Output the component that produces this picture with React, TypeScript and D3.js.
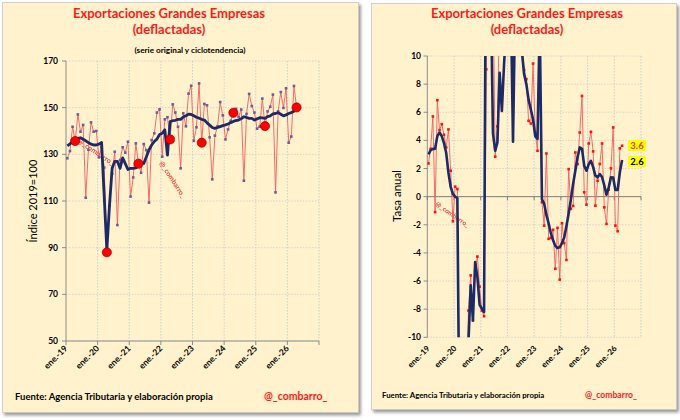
import React from 'react';
import * as d3 from 'd3';

const yearLabels = ['ene.-19', 'ene.-20', 'ene.-21', 'ene.-22', 'ene.-23', 'ene.-24', 'ene.-25', 'ene.-26'];

// Monthly index, Jan-2019 .. Apr-2026 (serie original)
const exportIndex = [
  128.3, 131.4, 141.8, 135.7, 147.1, 139.7, 142.6, 111.4, 132.0, 143.7, 139.7, 140.0,
  128.7, 133.0, 124.3, 88.0, 108.0, 121.6, 131.1, 99.7, 127.6, 133.0, 130.7, 135.4,
  111.9, 120.1, 134.7, 126.0, 122.1, 134.4, 131.8, 109.3, 136.1, 139.0, 147.9, 149.3,
  129.0, 145.0, 145.9, 136.4, 151.4, 147.9, 141.8, 124.0, 147.6, 142.0, 156.0, 159.4,
  135.8, 141.6, 160.4, 135.0, 151.6, 151.0, 137.3, 119.3, 138.0, 142.0, 152.4, 146.7,
  136.4, 140.7, 144.4, 147.8, 149.5, 146.0, 149.2, 118.7, 147.3, 155.9, 150.7, 147.9,
  141.0, 141.9, 153.9, 142.1, 148.4, 150.4, 155.6, 113.7, 148.4, 156.7, 149.9, 158.3,
  135.0, 137.6, 159.3, 150.1,
];

// Ciclotendencia
const trendIndex = [
  133.6, 134.5, 135.4, 136.2, 136.8, 137.1, 136.5, 135.8, 135.0, 134.4, 134.0, 134.0,
  134.4, 135.1, 112.0, 89.0, 108.0, 124.0, 127.0, 127.0, 124.0, 128.5, 126.0, 123.5,
  124.0, 124.0, 124.2, 125.0, 126.0, 126.1, 129.0, 131.9, 134.0, 135.5, 136.5, 138.5,
  139.0, 140.5, 129.7, 144.0, 144.4, 144.6, 145.0, 145.0, 146.0, 146.5, 147.2, 147.1,
  146.5, 145.9, 145.5, 145.0, 144.7, 143.5, 142.5, 141.5, 141.1, 141.5, 141.9, 142.3,
  142.6, 143.0, 143.6, 144.1, 144.5, 144.7, 145.3, 146.1, 145.8, 145.4, 145.4, 144.7,
  145.2, 145.7, 145.6, 145.4, 146.2, 146.5, 147.3, 147.5, 147.9, 147.2, 146.5, 146.9,
  147.5, 147.9, 148.5, 150.1,
];

// Tasa anual, serie original
const rateOriginal = [
  2.36, 3.4, 5.7, -1.1, 6.86, 4.73, 5.15, 4.4, 3.5, 4.78, 1.84, -1.75,
  0.71, 0.54, -15, -35, -25, -14, -8.1, -5.6, -8.8, -5.3, -4.26, -6.4,
  -8.1, -8.5, 9.05, 45, 20, 15, 2.84, 5.0, 14, 18, 20, 17,
  15, 16, 14, 13, 14, 12, 11, 9.0, 8.35, 5.39, 5.2, 9.46,
  4.56, 3.26, 10.5, -0.4, -2.06, 3.07, -3.0, -2.93, -2.36, -5.13, -2.22, -5.9,
  -1.89, -3.3, -4.5, 1.96, -0.87, -0.66, 3.14, 2.32, 4.56, 7.16, 0.31, -0.57,
  3.78, 4.61, 3.22, -0.64, 1.13, 2.32, 3.78, -0.76, -1.94, 0.5, 2.01, 4.92,
  -2.06, -2.46, 3.43, 3.62,
];

// Tasa anual, ciclotendencia
const rateTrend = [
  3.0, 3.3, 3.4, 3.4, 4.3, 4.56, 4.3, 3.8, 3.1, 1.7, 0.7, 0.2,
  0.0, -0.1, -18, -40, -28, -14, -10.3, -6.3, -8.8, -4.65, -5.7, -7.7,
  -7.97, -8.2, 25, 40, 15, 4.5, 3.26, 3.85, 8.8, 6.1, 9.5, 12,
  13, 14, 3.9, 14, 13, 12, 10.3, 8.7, 8.0, 6.9, 6.2, 5.5,
  4.3, 4.1, 12.5, -0.2, -0.5, -1.3, -1.9, -2.6, -3.1, -3.5, -3.65, -3.6,
  -3.3, -2.9, -2.1, -1.2, -0.2, 0.9, 1.84, 2.8, 3.5, 3.4, 2.2, 1.84,
  2.3, 2.55, 2.1, 1.5, 1.37, 1.6, 1.4, 0.8, 0.14, 0.66, 1.37, 1.35,
  0.47, 0.47, 1.73, 2.6,
];

// Same month (abril) each year, highlighted
const highlightMonths = [3, 15, 27, 39, 51, 63, 75, 87];

const leftYTicks = [50, 70, 90, 110, 130, 150, 170];
const rightYTicks = [-10, -8, -6, -4, -2, 0, 2, 4, 6, 8, 10];

const FONT = 'Lato, "Open Sans", "DejaVu Sans", sans-serif';
const CREAM = '#FFF2CC';
const NAVY = '#1C2A66';

export default function App() {
  const yearStarts = yearLabels.map((_, i) => i * 12);

  // Left chart scales
  const xL = d3.scaleLinear().domain([0, 96]).range([66, 319]);
  const yL = d3.scaleLinear().domain([50, 170]).range([341, 61]);
  const lineL = d3.line<number>().x((_, i) => xL(i + 0.5)).y((d) => yL(d));

  // Right chart scales
  const xR = d3.scaleLinear().domain([0, 96]).range([427.3, 641]);
  const yR = d3.scaleLinear().domain([-10, 10]).range([337.3, 56]);
  const lineR = d3.line<number>().x((_, i) => xR(i + 0.5)).y((d) => yR(d));

  const lastI = rateOriginal.length - 1;

  return (
    <div style={{ position: 'absolute', left: 0, top: 0 }}>
      <svg width={680} height={420} style={{ display: 'block', fontFamily: FONT }}>
        <defs>
          <filter id="sh" x="-5%" y="-5%" width="110%" height="110%">
            <feDropShadow dx="2" dy="2.5" stdDeviation="1.5" floodColor="#7f7f7f" floodOpacity="0.8" />
          </filter>
          <clipPath id="clipR">
            <rect x={427.3} y={56} width={641 - 427.3} height={337.3 - 56} />
          </clipPath>
          <clipPath id="clipL">
            <rect x={66} y={61} width={319 - 66} height={341 - 61} />
          </clipPath>
        </defs>
        <rect x={0} y={0} width={680} height={420} fill="#ffffff" />

        {/* ================= LEFT PANEL ================= */}
        <rect x={2.5} y={2.5} width={356} height={410} fill={CREAM} stroke="#c8c8c8" strokeWidth={0.8} filter="url(#sh)" />
        <text x={169} y={18} textAnchor="middle" fill="#FF1A1A" fontWeight={700} fontSize={13}>Exportaciones Grandes Empresas</text>
        <text x={169} y={34} textAnchor="middle" fill="#FF1A1A" fontWeight={700} fontSize={13}>(deflactadas)</text>
        <text x={190} y={53} textAnchor="middle" fill="#000" fontWeight={700} fontSize={8.2}>(serie original y ciclotendencia)</text>

        {/* gridlines */}
        {leftYTicks.map((t) => (
          <line key={'lg' + t} x1={66} x2={319} y1={yL(t)} y2={yL(t)} stroke="#c9c9c9" strokeWidth={0.7} strokeDasharray="1.5,1.5" />
        ))}
        {yearStarts.slice(1).concat([96]).map((m) => (
          <line key={'lv' + m} x1={xL(m)} x2={xL(m)} y1={61} y2={341} stroke="#b4c2d8" strokeWidth={0.7} strokeDasharray="1.5,1.5" />
        ))}
        {/* axes */}
        <line x1={66} x2={66} y1={61} y2={341} stroke="#8c8c8c" strokeWidth={1} />
        <line x1={66} x2={319} y1={341} y2={341} stroke="#8c8c8c" strokeWidth={1} />
        {leftYTicks.map((t) => (
          <g key={'ly' + t}>
            <line x1={62} x2={66} y1={yL(t)} y2={yL(t)} stroke="#8c8c8c" strokeWidth={1} />
            <text x={58} y={yL(t) + 3} textAnchor="end" fontSize={8.5} fontWeight={700} fill="#000">{t}</text>
          </g>
        ))}
        {yearStarts.concat([96]).map((m) => (
          <line key={'lt' + m} x1={xL(m)} x2={xL(m)} y1={341} y2={345} stroke="#8c8c8c" strokeWidth={1} />
        ))}
        {yearLabels.map((lab, i) => (
          <text key={'lx' + lab} transform={`translate(${xL(yearStarts[i]) + 2},${349}) rotate(-45)`} textAnchor="end" fontSize={8.5} fontWeight={700} fill="#000">{lab}</text>
        ))}
        <text transform={`translate(37,201) rotate(-90)`} textAnchor="middle" fontSize={11} fill="#000">Índice 2019=100</text>

        {/* watermarks */}
        <text transform="translate(77,142) rotate(34)" fontSize={7} fill="#E03030" fontWeight={700} opacity={0.85}>@_combarro_</text>
        <text transform="translate(159,163) rotate(57)" fontSize={7} fill="#E03030" fontWeight={700} opacity={0.85}>@_combarro_</text>

        <g clipPath="url(#clipL)">
          <path d={lineL(exportIndex) || ''} fill="none" stroke="#F25C5C" strokeWidth={0.9} />
          {exportIndex.map((v, i) => (
            <rect key={'lm' + i} x={xL(i + 0.5) - 1.3} y={yL(v) - 1.3} width={2.6} height={2.6} fill="#6E5C96" />
          ))}
          <path d={lineL(trendIndex) || ''} fill="none" stroke={NAVY} strokeWidth={2.8} strokeLinejoin="round" />
          {highlightMonths.map((m) => (
            <circle key={'hc' + m} cx={xL(m + 0.5)} cy={yL(exportIndex[m])} r={4.6} fill="#FF0000" stroke="#7a0000" strokeWidth={0.6} />
          ))}
        </g>

        <text x={15} y={400} fontSize={9.5} fontWeight={700} fill="#000">Fuente: Agencia Tributaria  y elaboración propia</text>
        <text x={264} y={400} fontSize={10.5} fontWeight={700} fill="#FF1A1A">@_combarro_</text>

        {/* ================= RIGHT PANEL ================= */}
        <rect x={371.5} y={3.5} width={305} height={406} fill={CREAM} stroke="#c8c8c8" strokeWidth={0.8} filter="url(#sh)" />
        <text x={527} y={18} textAnchor="middle" fill="#FF1A1A" fontWeight={700} fontSize={13}>Exportaciones Grandes Empresas</text>
        <text x={527} y={34} textAnchor="middle" fill="#FF1A1A" fontWeight={700} fontSize={13}>(deflactadas)</text>

        {rightYTicks.map((t) => (
          <line key={'rg' + t} x1={427.3} x2={641} y1={yR(t)} y2={yR(t)} stroke="#c9c9c9" strokeWidth={0.7} strokeDasharray="1.5,1.5" />
        ))}
        {yearStarts.slice(1).concat([96]).map((m) => (
          <line key={'rv' + m} x1={xR(m)} x2={xR(m)} y1={56} y2={337.3} stroke="#b4c2d8" strokeWidth={0.7} strokeDasharray="1.5,1.5" />
        ))}
        <line x1={427.3} x2={427.3} y1={56} y2={337.3} stroke="#8c8c8c" strokeWidth={1} />
        {rightYTicks.map((t) => (
          <g key={'ry' + t}>
            <line x1={423.5} x2={427.3} y1={yR(t)} y2={yR(t)} stroke="#8c8c8c" strokeWidth={1} />
            <text x={421} y={yR(t) + 3} textAnchor="end" fontSize={8.5} fontWeight={700} fill="#000">{t}</text>
          </g>
        ))}
        <line x1={427.3} x2={641} y1={yR(0)} y2={yR(0)} stroke="#7f7f7f" strokeWidth={1} />
        {yearStarts.concat([96]).map((m) => (
          <line key={'rt' + m} x1={xR(m)} x2={xR(m)} y1={yR(0)} y2={yR(0) + 3.5} stroke="#7f7f7f" strokeWidth={1} />
        ))}
        {yearLabels.map((lab, i) => (
          <text key={'rx' + lab} transform={`translate(${xR(yearStarts[i]) + 3},${349}) rotate(-45)`} textAnchor="end" fontSize={8} fontWeight={700} fill="#000">{lab}</text>
        ))}
        <text transform={`translate(401,196) rotate(-90)`} textAnchor="middle" fontSize={11.5} fill="#000">Tasa anual</text>

        <text transform="translate(435,205) rotate(35)" fontSize={6.5} fill="#E03030" fontWeight={700} opacity={0.85}>@_combarro_</text>

        <g clipPath="url(#clipR)">
          <path d={lineR(rateOriginal) || ''} fill="none" stroke="#F25C5C" strokeWidth={0.9} />
          {rateOriginal.map((v, i) =>
            v >= -10 && v <= 10 ? (
              <rect key={'rm' + i} x={xR(i + 0.5) - 1.3} y={yR(v) - 1.3} width={2.6} height={2.6} fill="#FF1010" />
            ) : null
          )}
          <path d={lineR(rateTrend) || ''} fill="none" stroke={NAVY} strokeWidth={2.6} strokeLinejoin="round" />
        </g>

        {/* data labels of last values */}
        <rect x={628} y={140} width={18} height={11} fill="#FFFF00" />
        <text x={637} y={149} textAnchor="middle" fontSize={9.5} fontWeight={700} fill="#F04010">{rateOriginal[lastI].toFixed(1)}</text>
        <rect x={628} y={156} width={18} height={11} fill="#FFFF00" />
        <text x={637} y={165} textAnchor="middle" fontSize={9.5} fontWeight={700} fill="#000">{rateTrend[lastI].toFixed(1)}</text>

        <text x={382} y={398} fontSize={7.8} fontWeight={700} fill="#000">Fuente: Agencia Tributaria  y elaboración propia</text>
        <text x={585} y={398} fontSize={8.6} fontWeight={700} fill="#FF1A1A">@_combarro_</text>
      </svg>
    </div>
  );
}
